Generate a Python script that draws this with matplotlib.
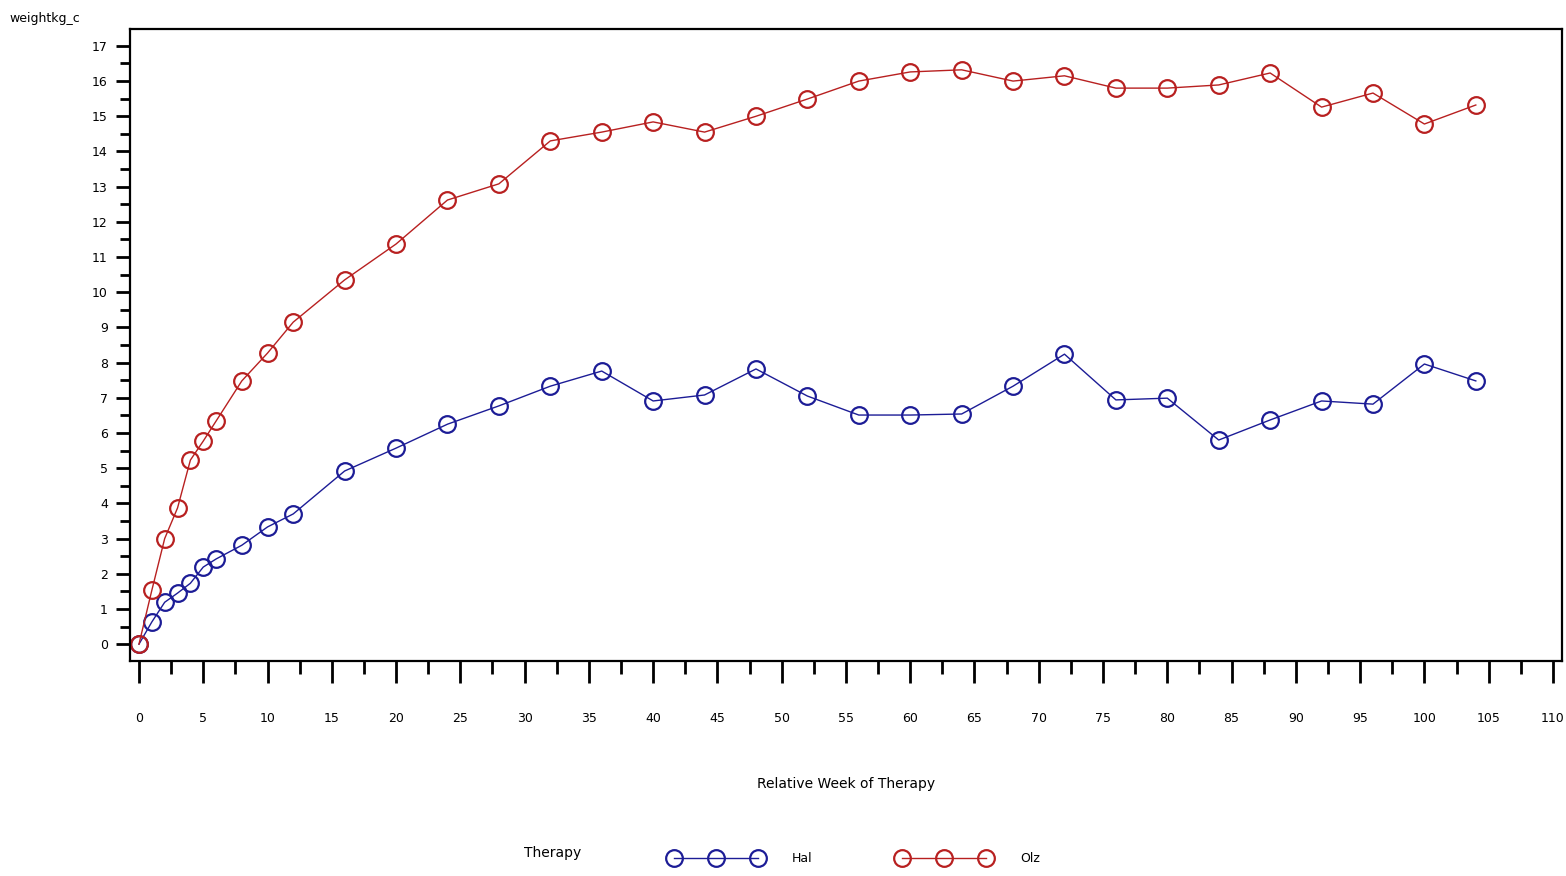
import matplotlib
matplotlib.use("Agg")
import matplotlib.pyplot as plt
from matplotlib.lines import Line2D
from matplotlib.ticker import MultipleLocator

# relative week of therapy
weeks = [0, 1, 2, 3, 4, 5, 6, 8, 10, 12, 16, 20, 24, 28, 32, 36, 40, 44, 48,
         52, 56, 60, 64, 68, 72, 76, 80, 84, 88, 92, 96, 100, 104]

# mean weight change (kg) per therapy
hal = [0.0, 0.63, 1.19, 1.45, 1.73, 2.19, 2.42, 2.81, 3.33, 3.70, 4.92, 5.57,
       6.25, 6.77, 7.33, 7.76, 6.91, 7.08, 7.82, 7.05, 6.51, 6.51, 6.54, 7.33,
       8.24, 6.94, 6.99, 5.80, 6.37, 6.91, 6.82, 7.96, 7.48]
olz = [0.0, 1.53, 3.00, 3.87, 5.23, 5.77, 6.34, 7.48, 8.27, 9.15, 10.35, 11.37,
       12.62, 13.08, 14.30, 14.55, 14.84, 14.55, 15.00, 15.49, 16.00, 16.26,
       16.32, 16.00, 16.15, 15.80, 15.80, 15.89, 16.23, 15.26, 15.66, 14.78,
       15.32]

therapies = ["Hal", "Olz"]
colors = ["#1c1c96", "#b82020"]

plt.rcParams["font.family"] = "DejaVu Sans"

fig = plt.figure(figsize=(15.66, 8.76), dpi=100)
ax = fig.add_axes([0.083, 0.2454, 0.9144, 0.7215])

for vals, col in zip([hal, olz], colors):
    ax.plot(weeks, vals, color=col, lw=1.0, marker="o", ms=12,
            mfc="none", mec=col, mew=1.6)

ax.set_xlim(-0.7, 110.7)
ax.set_ylim(-0.48, 17.48)
ax.xaxis.set_major_locator(MultipleLocator(5))
ax.xaxis.set_minor_locator(MultipleLocator(2.5))
ax.yaxis.set_major_locator(MultipleLocator(1))
ax.yaxis.set_minor_locator(MultipleLocator(0.5))

ax.tick_params(axis="x", which="major", length=16, width=2, pad=21, labelsize=9)
ax.tick_params(axis="x", which="minor", length=9, width=2)
ax.tick_params(axis="y", which="major", length=10, width=2, pad=6, labelsize=9)
ax.tick_params(axis="y", which="minor", length=7, width=2)
for s in ax.spines.values():
    s.set_linewidth(1.6)

fig.text(0.006, 0.979, "weightkg_c", fontsize=9, va="center", ha="left")
ax.set_xlabel("Relative Week of Therapy", fontsize=10, labelpad=37)

fig.text(0.353, 0.026, "Therapy", fontsize=10, va="center", ha="center")
handles = [Line2D([], [], color=c, lw=1.0, marker="o", ms=12, mfc="none",
                  mec=c, mew=1.6) for c in colors]
fig.legend(handles, therapies, loc="center", bbox_to_anchor=(0.546, 0.02),
           ncol=2, frameon=False, numpoints=3, handlelength=7.3,
           handletextpad=2.4, columnspacing=6.9, fontsize=9)

fig.savefig("out.png", dpi=100)
